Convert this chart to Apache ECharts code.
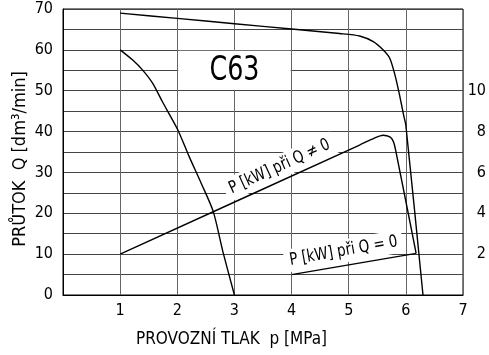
<!DOCTYPE html>
<html>
<head>
<meta charset="utf-8">
<script src="https://cdn.jsdelivr.net/npm/echarts@6/dist/echarts.min.js"></script>
<style>
html,body{margin:0;padding:0;background:#fff}
#main{width:489px;height:355px}
</style>
</head>
<body>
<div id="main"></div>
<script>
var FONT = "'Liberation Sans Narrow', 'DejaVu Sans Condensed', sans-serif";

// průtok Q [dm3/min] v závislosti na tlaku p [MPa]
var flowHigh = [[1,69],[2,67.7],[3,66.4],[4,65.1],[4.84,64],[5.19,63.4],[5.43,62],[5.6,60],
    [5.72,57.9],[5.81,53.8],[5.89,48.9],[5.96,44.1],[6.0,41.5],[6.3,0]];
var flowLow = [[1,60],[1.22,57.5],[1.39,55.1],[1.57,51.8],[1.74,47.3],[2.01,40.4],[2.21,33.8],
    [2.42,27.3],[2.63,20.4],[2.8,10.5],[3,0]];

// příkon P [kW]
var powerLoad = [[1,2.0],[5.19,7.34],[5.45,7.68],[5.6,7.82],[5.72,7.74],[5.78,7.52],[5.82,7.1],[6.18,2.04]];
var powerIdle = [[4,1.0],[6.18,2.04]];

// osy
var pressureTicks = [1,2,3,4,5,6,7];
var flowTicks = [0,10,20,30,40,50,60,70];
var powerTicks = [2,4,6,8,10];

var chart = echarts.init(document.getElementById('main'));

function line(data, yi) {
    return {
        type: 'line',
        data: data,
        yAxisIndex: yi,
        smooth: 0.25,
        symbol: 'none',
        silent: true,
        lineStyle: {color: '#000', width: 1.4}
    };
}

var option = {
    animation: false,
    backgroundColor: '#fff',
    grid: {left: 63, right: 26, top: 9, bottom: 60, show: true, borderColor: '#000', borderWidth: 1},
    xAxis: {
        type: 'value', min: 0, max: 7, interval: 1,
        name: 'PROVOZNÍ TLAK  p [MPa]',
        nameLocation: 'middle', nameGap: 36,
        nameTextStyle: {fontFamily: FONT, fontSize: 17, color: '#000', padding: [0, 63, 0, 0]},
        axisLine: {lineStyle: {color: '#000', width: 1}},
        axisTick: {show: false},
        axisLabel: {
            fontFamily: FONT, fontSize: 16, color: '#000', margin: 8,
            formatter: function (v) { return pressureTicks.indexOf(v) >= 0 ? String(v) : ''; }
        },
        splitLine: {lineStyle: {color: '#666', width: 1}}
    },
    yAxis: [{
        type: 'value', min: 0, max: 70, interval: 5,
        name: 'PRŮTOK  Q [dm³/min]',
        nameLocation: 'middle', nameGap: 34, nameMoveOverlap: false,
        nameTextStyle: {fontFamily: FONT, fontSize: 18, color: '#000', padding: [0, 14, 0, 0]},
        axisLine: {show: true, lineStyle: {color: '#000', width: 1}},
        axisTick: {show: false},
        axisLabel: {
            fontFamily: FONT, fontSize: 16, color: '#000', margin: 10,
            formatter: function (v) { return flowTicks.indexOf(v) >= 0 ? String(v) : ''; }
        },
        splitLine: {lineStyle: {color: '#444', width: 1}}
    }, {
        type: 'value', min: 0, max: 14, interval: 2, position: 'right',
        axisLine: {show: false},
        axisTick: {show: false},
        axisLabel: {
            fontFamily: FONT, fontSize: 16, color: '#000', margin: 23, align: 'right',
            formatter: function (v) { return powerTicks.indexOf(v) >= 0 ? String(v) : ''; }
        },
        splitLine: {show: false}
    }],
    series: [
        line(flowHigh, 0),
        line(flowLow, 0),
        line(powerLoad, 1),
        line(powerIdle, 1)
    ]
};
chart.setOption(option);

function px(x, y, yi) {
    return chart.convertToPixel({xAxisIndex: 0, yAxisIndex: yi || 0}, [x, y]);
}

var boxA = px(2, 60), boxB = px(4, 50), title = px(3, 55);
var lblLoad = px(3.79, 6.28, 1), lblIdle = px(4.91, 2.15, 1);

function label(text, p, deg) {
    return {
        type: 'text', x: p[0], y: p[1], z: 1,
        rotation: deg * Math.PI / 180,
        scaleX: 0.88,
        style: {
            text: text, font: '17px ' + FONT, fill: '#000',
            textAlign: 'center', textVerticalAlign: 'middle',
            backgroundColor: '#fff', padding: [3, 6]
        }
    };
}

chart.setOption({
    graphic: [
        {
            type: 'rect', z: 1,
            shape: {x: boxA[0] + 1, y: boxA[1] + 1, width: boxB[0] - boxA[0] - 2, height: boxB[1] - boxA[1] - 2},
            style: {fill: '#fff'}
        },
        {
            type: 'text', x: title[0], y: title[1] + 1, z: 1, scaleX: 0.83,
            style: {text: 'C63', font: '34px ' + FONT, fill: '#000', textAlign: 'center', textVerticalAlign: 'middle'}
        },
        label('P [kW] při Q ≠ 0', lblLoad, 24.5),
        label('P [kW] při Q = 0', lblIdle, 10)
    ]
});
</script>
</body>
</html>
